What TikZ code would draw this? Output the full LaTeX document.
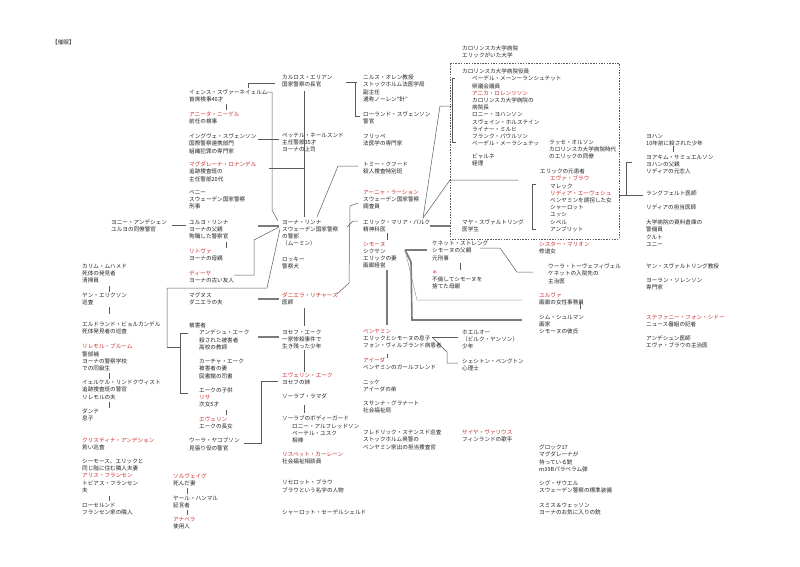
\documentclass[tikz,border=0pt]{standalone}
\usepackage{fontspec}
\setmainfont{Noto Sans CJK JP}
\definecolor{jred}{RGB}{205,45,45}
\definecolor{jtxt}{RGB}{35,35,35}
\definecolor{jln}{RGB}{90,90,90}
\newcommand{\R}[1]{\textcolor{jred}{#1}}
\newcommand{\I}{\hspace*{10pt}}
\begin{document}
\begin{tikzpicture}[x=1pt,y=-1pt,
  t/.style={anchor=north west,inner sep=0pt,align=left,text=jtxt,font=\fontsize{5.6}{7.2}\selectfont},
  ln/.style={draw=jln,line width=0.5pt},
  tk/.style={draw=jln!80,line width=1.6pt},
  sh/.style={draw=jln,line width=1pt}]
\path[use as bounding box,fill=white] (0,0) rectangle (800,566);
\def\nd#1#2#3#4{\node[t] (#1) at (#2,#3-3.2) {#4};}
\nd{title}{52}{43}{【催眠】}
% column A
\nd{jens}{189}{93}{イェンス・スヴァーネイェルム\\首席検事40才}
\nd{anita}{189}{115}{\R{アニータ・ニーゲル}\\前任の検事}
\nd{yngve}{189}{137}{イングヴェ・スヴェンソン\\国際警察連携部門\\組織犯罪の専門家}
\nd{magda}{189}{165}{\R{マグダレーナ・ロナンデル}\\追跡捜査班の\\主任警部20代}
\nd{benny}{189}{193}{ベニー\\スウェーデン国家警察\\刑事}
\nd{jonny}{111}{223}{ヨニー・アンデシェン\\ユルヨの同僚警官}
\nd{yurjo}{189}{223}{ユルヨ・リンナ\\ヨーナの父親\\殉職した警察官}
\nd{ritva}{189}{252}{\R{リトヴァ}\\ヨーナの母親}
\nd{disa}{189}{274}{\R{ディーサ}\\ヨーナの古い友人}
\nd{magnus}{189}{296}{マグヌス\\ダニエラの夫}
\nd{victim}{189}{326}{被害者\\\I アンデシュ・エーク\\\I 殺された被害者\\\I 高校の教師\\[7.2pt]\I カーチャ・エーク\\\I 被害者の妻\\\I 図書館の司書\\[7.2pt]\I エークの子供\\\I \R{リサ}\\\I 次女5才\\[7.2pt]\I \R{エヴェリン}\\\I エークの長女}
\nd{ulla}{189}{441}{ウーラ・ヤコブソン\\見張り役の警官}
\nd{solveig}{173}{477}{\R{ソルヴェイグ}\\死んだ妻}
\nd{jarl}{173}{499}{ヤール・ハンマル\\証言者}
\nd{anabera}{173}{520}{\R{アナベラ}\\使用人}
% column left
\nd{karim}{82}{267}{カリム・ムハメド\\死体の発見者\\清掃員}
\nd{jan}{82}{296}{ヤン・エリクソン\\巡査}
\nd{eldrand}{82}{325}{エルドランド・ビョルカンデル\\死体発見者の巡査}
\nd{lillemor}{82}{347}{\R{リレモル・ブルーム}\\警部補\\ヨーナの警察学校\\での同級生}
\nd{jerker}{82}{383}{イェルケル・リンドクヴィスト\\追跡捜査班の警官\\リレモルの夫}
\nd{dante}{82}{412}{ダンテ\\息子}
\nd{kristina}{82}{441}{\R{クリスティナ・アンデション}\\若い巡査}
\nd{simos}{82}{462}{シーモース、エリックと\\同じ階に住む隣人夫妻\\\R{アリス・フランセン}\\トビアス・フランセン\\夫}
\nd{rosel}{82}{506}{ローセルンド\\フランセン家の隣人}
% column B
\nd{carlos}{282}{78}{カルロス・エリアン\\国家警察の長官}
\nd{petter}{282}{136}{ペッテル・ネールスンド\\主任警部35才\\ヨーナの上司}
\nd{joona}{282}{223}{ヨーナ・リンナ\\スウェーデン国家警察\\の警部\\（ムーミン）}
\nd{rocky}{282}{260}{ロッキー\\警察犬}
\nd{daniela}{282}{296}{\R{ダニエラ・リチャーズ}\\医師}
\nd{josef}{282}{333}{ヨセフ・エーク\\一家惨殺事件で\\生き残った少年}
\nd{evelin}{282}{376}{\R{エヴェリン・エーク}\\ヨセフの姉}
\nd{sorab}{282}{397}{ソーラブ・ラマダ}
\nd{guard}{282}{419}{ソーラブのボディーガード\\\I ロニー・アルフレッドソン\\\I ペーテル・ユスク\\\I 相棒}
\nd{lisbet}{282}{455}{\R{リスベット・カーレーン}\\社会福祉相談員}
\nd{liselott}{282}{483}{リセロット・ブラウ\\ブラウという名字の人物}
\nd{charlotte}{282}{513}{シャーロット・セーデルシェルド}
% column C
\nd{nils}{363}{78}{ニルス・オレン教授\\ストックホルム法医学局\\副主任\\通称ノーレン“針”}
\nd{roland}{363}{115}{ローランド・スヴェンソン\\警官}
\nd{frippe}{363}{137}{フリッペ\\法医学の専門家}
\nd{tommy}{363}{165}{トミー・クフード\\殺人捜査特別班}
\nd{anja}{363}{193}{\R{アーニャ・ラーション}\\スウェーデン国家警察\\調査員}
\nd{erik}{363}{223}{エリック・マリア・バルク\\精神科医}
\nd{simone}{363}{245}{\R{シモーヌ}\\シクサン\\エリックの妻\\画廊経営}
\nd{benjamin}{363}{332}{\R{ベンヤミン}\\エリックとシモーヌの息子\\フォン・ヴィルブランド病患者}
\nd{aida}{363}{361}{\R{アイーダ}\\ベンヤミンのガールフレンド}
\nd{nicke}{363}{383}{ニッケ\\アイーダの弟}
\nd{susanna}{363}{404}{スサンナ・グラナート\\社会福祉局}
\nd{fredrik}{363}{433}{フレドリック・ステンスド巡査\\ストックホルム県警の\\ベンヤミン家出の担当捜査官}
% column D
\nd{karo}{462}{49}{カロリンスカ大学病院\\エリックがいた大学}
\nd{board}{462}{72}{カロリンスカ大学病院役員\\\I ベーデル・メーンーランシュテット\\\I 県議会議員\\\I \R{アニカ・ロレンツソン}\\\I カロリンスカ大学病院の\\\I 病院長\\\I ロニー・ヨハンソン\\\I スヴェイン・ホルステイン\\\I ライナー・ミルヒ\\\I フランク・パウルソン\\\I ベーデル・メーラシュテッ}
\nd{bjarne}{472}{157}{ビャルネ\\経理}
\nd{maja}{462}{223}{マヤ・スヴァルトリング\\医学生}
\nd{kennet}{432}{244}{ケネット・ストレング\\シモーヌの父親\\元刑事}
\nd{mother}{432}{273}{\R{＊}\\不倫してシモーヌを\\捨てた母親}
\nd{hoel}{462}{333}{ホエルオー\\（ビルク・ヤンソン）\\少年}
\nd{shes}{462}{362}{シェシトン・ベングトン\\心理士}
\nd{saija}{462}{433}{\R{サイヤ・ヴァリウス}\\フィンランドの歌手}
% column E
\nd{lasse}{549}{143}{ラッセ・オルソン\\カロリンスカ大学病院時代\\のエリックの同僚}
\nd{patients}{540}{172}{エリックの元患者\\\I \R{エヴァ・ブラウ}\\\I マレック\\\I \R{リディア・エーヴェシュ}\\\I ベンヤミンを誘拐した女\\\I シャーロット\\\I ユッシ\\\I シベル\\\I アンブリット}
\nd{marion}{539}{245}{\R{シスター・マリオン}\\修道女}
\nd{ullat}{548}{267}{ウーラ・トーヴェフィヴェル\\ケネットの入院先の\\主治医}
\nd{yulva}{539}{296}{\R{ユルヴァ}\\画廊の女性事務員}
\nd{sim}{539}{318}{シム・シュルマン\\画家\\シモーヌの彼氏}
\nd{glock}{539}{448}{グロック17\\マグダレーナが\\持っている銃\\m39Bパラベラム弾}
\nd{sig}{539}{484}{シグ・ザウエル\\スウェーデン警察の標準装備}
\nd{smith}{539}{506}{スミス＆ウェッソン\\ヨーナのお気に入りの銃}
% column F
\nd{johan}{646}{137}{ヨハン\\10年前に殺された少年}
\nd{joakim}{646}{158}{ヨアキム・サミュエルソン\\ヨハンの父親\\リディアの元恋人}
\nd{lang}{646}{194}{ラングフェルト医師}
\nd{lydoc}{646}{208}{リディアの担当医師}
\nd{kurt}{646}{223}{大学病院の資料倉庫の\\警備員\\クルト\\ユニー}
\nd{jans}{646}{267}{ヤン・スヴァルトリング教授}
\nd{goran}{646}{281}{ヨーラン・ソレンソン\\専門家}
\nd{stef}{646}{318}{\R{ステファニー・フォン・シドー}\\ニュース番組の記者}
\nd{andoc}{646}{339}{アンデシュン医師\\エヴァ・ブラウの主治医}
% dashed box
\draw[jln,dash pattern=on 1.5pt off 1.2pt,line width=0.6pt] (450,63) rectangle (619,239);
% connectors
\draw[ln] (248,88) -- (248,83) -- (275,83);
\draw[ln] (267,92) -- (272,92) -- (272,210) -- (278,221);
\draw[sh] (226,104) -- (226,110);
\draw[ln] (258,139) -- (279,139);
\draw[ln] (269,168) -- (304,168);
\draw[ln] (304,91) -- (304,217);
\draw[ln] (317,217) -- (338,166) -- (358,166);
\draw[ln] (346,82) -- (357,82);
\draw[ln] (355,82) -- (355,116) -- (360,116);
\draw[ln] (337,294) -- (349,283) -- (350,206) -- (358,203);
\draw[ln] (347,227) -- (353,221) -- (358,221);
\draw[ln] (423,218) -- (440,106) -- (452,106);
\draw[ln] (455,78) -- (452,78) -- (452,142) -- (456,142);
\draw[ln] (423,218) -- (450,180) -- (518,180);
\draw[tk] (430,226) -- (450,226);
\draw[ln] (536,184) -- (532,184) -- (532,229) -- (536,229);
\draw[ln] (632,162) -- (626,162) -- (626,195) -- (643,195);
\draw[ln] (619,195) -- (626,195);
\draw[sh] (673,146) -- (673,152);
\draw[ln] (172,225) -- (186,225);
\draw[tk] (258,226) -- (279,226);
\draw[sh] (226,242) -- (226,248);
\draw[ln] (234,275) -- (254,275) -- (254,240) -- (279,227);
\draw[ln,double=white,double distance=1pt,line width=0.4pt] (138,346.5) -- (167,346.5);
\draw[ln] (167,347) -- (180,347);
\draw[ln] (167,347) -- (167,288) -- (267,288) -- (280,229);
\draw[ln] (188,333) -- (180,333) -- (180,393) -- (188,393);
\draw[tk] (258,299) -- (279,299);
\draw[tk] (258,337) -- (279,337);
\draw[ln] (304,308) -- (304,326);
\draw[sh] (304,350) -- (304,372);
\draw[ln] (304,405) -- (304,413);
\draw[ln] (244,443) -- (261,443) -- (261,381) -- (278,381);
\draw[sh] (109,286) -- (109,292);
\draw[sh] (109,307) -- (109,314);
\draw[sh] (109,373) -- (109,379);
\draw[sh] (109,402) -- (109,408);
\draw[sh] (109,496) -- (109,501);
\draw[sh] (187,488) -- (187,494);
\draw[ln] (187,510) -- (187,515);
\draw[sh] (226,410) -- (226,415);
\draw[sh] (387,233) -- (387,240);
\draw[tk] (387,270) -- (387,325);
\draw[sh] (460,263) -- (460,270);
\draw[tk] (405,250) -- (427,250);
\draw[tk] (405,250) -- (411,262) -- (412,320) -- (522,320);
\draw[ln,draw=jln!60] (405,250) -- (417,300) -- (522,300);
\draw[ln] (480,248) -- (500,248) -- (517,272) -- (533,272);
\draw[ln] (432,337) -- (458,337);
\draw[ln] (432,337) -- (447,352) -- (447,363) -- (458,363);
\draw[ln] (387,354) -- (387,358);
\draw[ln] (580,302) -- (580,309);
\end{tikzpicture}
\end{document}
